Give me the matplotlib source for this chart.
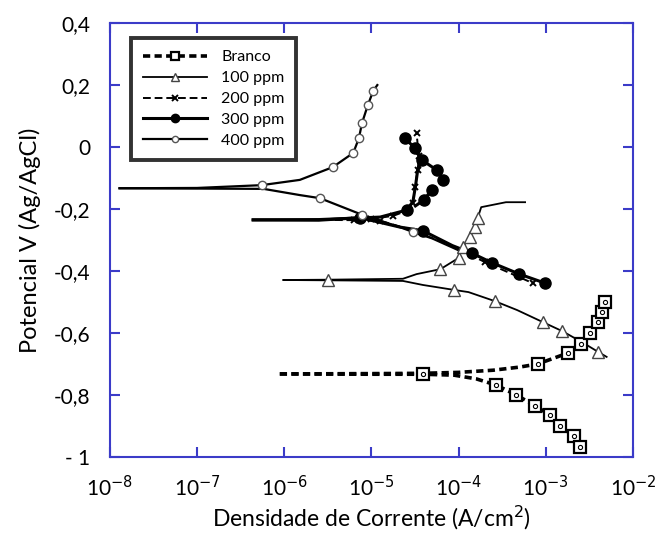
import matplotlib
matplotlib.use("Agg")
import matplotlib.pyplot as plt
from matplotlib.lines import Line2D

plt.rcParams['font.family'] = ['Lato', 'DejaVu Sans']

# ---------------- data (current density A/cm2, potential V) ----------------
# Branco
i_b_cat = [8.9e-7, 1.0e-5, 3.9e-5, 8.9e-5, 1.6e-4, 2.7e-4, 4.6e-4, 7.6e-4, 1.12e-3, 1.45e-3, 2.1e-3, 2.5e-3, 2.8e-3]
v_b_cat = [-0.732, -0.733, -0.733, -0.736, -0.748, -0.768, -0.800, -0.835, -0.865, -0.900, -0.932, -0.968, -0.978]
i_b_an = [8.9e-7, 1.0e-5, 3.9e-5, 1.0e-4, 2.5e-4, 5.0e-4, 8.1e-4, 1.78e-3, 2.57e-3, 3.24e-3, 3.98e-3, 4.37e-3, 4.79e-3]
v_b_an = [-0.732, -0.731, -0.730, -0.727, -0.720, -0.710, -0.700, -0.665, -0.635, -0.600, -0.565, -0.532, -0.500]

# 100 ppm
i_100_cat = [9.8e-7, 3.2e-6, 2.3e-5, 3.9e-5, 8.9e-5, 1.3e-4, 2.6e-4, 4.7e-4, 9.3e-4, 1.55e-3, 2.7e-3, 4.0e-3, 5.0e-3]
v_100_cat = [-0.429, -0.430, -0.432, -0.445, -0.461, -0.468, -0.497, -0.526, -0.565, -0.594, -0.632, -0.661, -0.677]
i_100_an = [9.8e-7, 3.2e-6, 2.3e-5, 3.3e-5, 6.2e-5, 1.0e-4, 1.12e-4, 1.35e-4, 1.55e-4, 1.66e-4, 1.82e-4, 3.5e-4, 5.8e-4]
v_100_an = [-0.429, -0.428, -0.425, -0.410, -0.394, -0.358, -0.323, -0.290, -0.258, -0.229, -0.194, -0.178, -0.178]

# 200 ppm
i_200_cat = [2.8e-6, 6.3e-6, 1.26e-5, 2.5e-5, 7.9e-5, 2.0e-4, 7.1e-4]
v_200_cat = [-0.235, -0.236, -0.238, -0.262, -0.315, -0.371, -0.439]
i_200_an = [2.8e-6, 1.0e-5, 1.78e-5, 2.57e-5, 3.0e-5, 3.16e-5, 3.4e-5, 3.5e-5, 3.3e-5]
v_200_an = [-0.235, -0.232, -0.222, -0.205, -0.180, -0.128, -0.074, -0.030, 0.045]

# 300 ppm
i_300_cat = [4.4e-7, 2.5e-6, 7.4e-6, 2.1e-5, 3.9e-5, 8.5e-5, 1.41e-4, 2.45e-4, 5.0e-4, 9.8e-4]
v_300_cat = [-0.235, -0.236, -0.228, -0.258, -0.270, -0.318, -0.342, -0.374, -0.410, -0.439]
i_300_an = [4.4e-7, 2.5e-6, 1.26e-5, 2.57e-5, 3.0e-5, 3.2e-5, 3.4e-5, 3.8e-5, 3.16e-5, 2.4e-5]
v_300_an = [-0.235, -0.234, -0.226, -0.203, -0.175, -0.128, -0.074, -0.042, -0.003, 0.029]
i_300_hook1 = [3.8e-5, 5.6e-5, 6.6e-5]
v_300_hook1 = [-0.042, -0.074, -0.106]
i_300_hook2 = [3.2e-5, 4.0e-5, 4.9e-5]
v_300_hook2 = [-0.190, -0.171, -0.139]

# 400 ppm
i_400_cat = [1.29e-8, 1.0e-7, 5.8e-7, 1.51e-6, 2.57e-6, 7.9e-6, 2.1e-5, 3.0e-5, 5.0e-5, 1.0e-4]
v_400_cat = [-0.133, -0.134, -0.135, -0.155, -0.165, -0.219, -0.258, -0.274, -0.295, -0.333]
i_400_an = [1.29e-8, 1.0e-7, 5.5e-7, 1.51e-6, 3.6e-6, 6.2e-6, 7.2e-6, 7.8e-6, 9.1e-6, 1.05e-5, 1.17e-5]
v_400_an = [-0.133, -0.132, -0.123, -0.106, -0.065, -0.019, 0.029, 0.077, 0.135, 0.181, 0.200]

labels = ["Branco", "100 ppm", "200 ppm", "300 ppm", "400 ppm"]
x_ticks = [1e-8, 1e-7, 1e-6, 1e-5, 1e-4, 1e-3, 1e-2]
x_ticklabels = ["10$^{-8}$", "10$^{-7}$", "10$^{-6}$", "10$^{-5}$", "10$^{-4}$", "10$^{-3}$", "10$^{-2}$"]
y_ticks = [0.4, 0.2, 0.0, -0.2, -0.4, -0.6, -0.8, -1.0]
y_ticklabels = ["0,4", "0,2", "0", "-0,2", "-0,4", "-0,6", "-0,8", "- 1"]

# ---------------- figure ----------------
fig = plt.figure(figsize=(6.62, 5.36), dpi=100)
ax = fig.add_axes([0.166, 0.1474, 0.79, 0.8096])
blue = "#3b3bc8"

# styles
st_b = dict(color="black", lw=2.6, ls=(0, (2, 1.2)))
mk_b = dict(marker="s", ms=8, mfc="white", mec="black", mew=1.6)
st_100 = dict(color="black", lw=1.3, ls="-")
mk_100 = dict(marker="^", ms=8, mfc="white", mec="#444444", mew=1.0)
st_200 = dict(color="black", lw=1.4, ls=(0, (4, 2)))
mk_200 = dict(marker="x", ms=5, mec="black", mew=1.4)
st_300 = dict(color="black", lw=2.2, ls="-")
mk_300 = dict(marker="o", ms=8, mfc="black", mec="black")
st_400 = dict(color="black", lw=1.6, ls="-")
mk_400 = dict(marker="o", ms=6, mfc="white", mec="#555555", mew=1.0)

# Branco
ax.plot(i_b_cat, v_b_cat, **st_b, zorder=2)
ax.plot(i_b_an, v_b_an, **st_b, zorder=2)
ax.plot(i_b_cat, v_b_cat, ls="none", markevery=[2, 5, 6, 7, 8, 9, 10, 11], **mk_b, zorder=3)
ax.plot(i_b_an, v_b_an, ls="none", markevery=[6, 7, 8, 9, 10, 11, 12], **mk_b, zorder=3)
ax.plot(i_b_cat, v_b_cat, ls="none", marker="o", ms=3, mfc="none", mec="black", mew=0.8,
        markevery=[2, 5, 6, 7, 8, 9, 10, 11], zorder=4)
ax.plot(i_b_an, v_b_an, ls="none", marker="o", ms=3, mfc="none", mec="black", mew=0.8,
        markevery=[6, 7, 8, 9, 10, 11, 12], zorder=4)

# 100 ppm
ax.plot(i_100_cat, v_100_cat, **st_100, zorder=2)
ax.plot(i_100_an, v_100_an, **st_100, zorder=2)
ax.plot(i_100_cat, v_100_cat, ls="none", markevery=[1, 4, 6, 8, 9, 11], **mk_100, zorder=3)
ax.plot(i_100_an, v_100_an, ls="none", markevery=[4, 5, 6, 7, 8, 9], **mk_100, zorder=3)

# 200 ppm
ax.plot(i_200_cat, v_200_cat, **st_200, zorder=2)
ax.plot(i_200_an, v_200_an, **st_200, zorder=2)
ax.plot(i_200_cat, v_200_cat, ls="none", markevery=[1, 2, 5, 6], **mk_200, zorder=3)
ax.plot(i_200_an, v_200_an, ls="none", markevery=[1, 2, 3, 4, 5, 6, 7, 8], **mk_200, zorder=3)

# 300 ppm
ax.plot(i_300_cat, v_300_cat, **st_300, zorder=2)
ax.plot(i_300_an, v_300_an, **st_300, zorder=2)
ax.plot(i_300_hook1, v_300_hook1, **st_300, zorder=2)
ax.plot(i_300_hook2, v_300_hook2, **st_300, zorder=2)
ax.plot(i_300_cat, v_300_cat, ls="none", markevery=[2, 4, 6, 7, 8, 9], **mk_300, zorder=3)
ax.plot(i_300_an, v_300_an, ls="none", markevery=[3, 7, 8, 9], **mk_300, zorder=3)
ax.plot(i_300_hook1, v_300_hook1, ls="none", markevery=[1, 2], **mk_300, zorder=3)
ax.plot(i_300_hook2, v_300_hook2, ls="none", markevery=[1, 2], **mk_300, zorder=3)

# 400 ppm
ax.plot(i_400_cat, v_400_cat, **st_400, zorder=2)
ax.plot(i_400_an, v_400_an, **st_400, zorder=2)
ax.plot(i_400_cat, v_400_cat, ls="none", markevery=[4, 5, 7], **mk_400, zorder=3)
ax.plot(i_400_an, v_400_an, ls="none", markevery=[2, 4, 5, 6, 7, 8, 9], **mk_400, zorder=3)

ax.set_xscale("log")
ax.set_xlim(1e-8, 1e-2)
ax.set_ylim(-1.0, 0.4)
ax.set_xticks(x_ticks)
ax.set_xticklabels(x_ticklabels)
ax.minorticks_off()
ax.set_yticks(y_ticks)
ax.set_yticklabels(y_ticklabels)

for s in ax.spines.values():
    s.set_color(blue)
    s.set_linewidth(1.5)
ax.tick_params(axis="both", which="both", direction="in", length=7, width=1.5, color=blue,
               labelsize=15, labelcolor="black", top=True, right=True)
ax.tick_params(axis="x", pad=13)
ax.tick_params(axis="y", pad=14)

ax.set_xlabel("Densidade de Corrente (A/cm$^2$)", fontsize=16.5, labelpad=3)
ax.set_ylabel("Potencial V (Ag/AgCl)", fontsize=17, labelpad=9)

# legend
handles = [
    Line2D([], [], **st_b, **mk_b),
    Line2D([], [], **st_100, **mk_100),
    Line2D([], [], **st_200, **mk_200),
    Line2D([], [], **st_300, **mk_300),
    Line2D([], [], **st_400, **mk_400),
]
leg = ax.legend(handles, labels, loc="upper left", bbox_to_anchor=(0.04, 0.965),
                frameon=True, fancybox=False, fontsize=11.5, handlelength=4.0,
                labelspacing=0.42, borderpad=0.75, handletextpad=0.9, borderaxespad=0,
                markerscale=0.75)
leg.get_frame().set_edgecolor("black")
leg.get_frame().set_linewidth(2.8)

fig.savefig("out.png", dpi=100)
